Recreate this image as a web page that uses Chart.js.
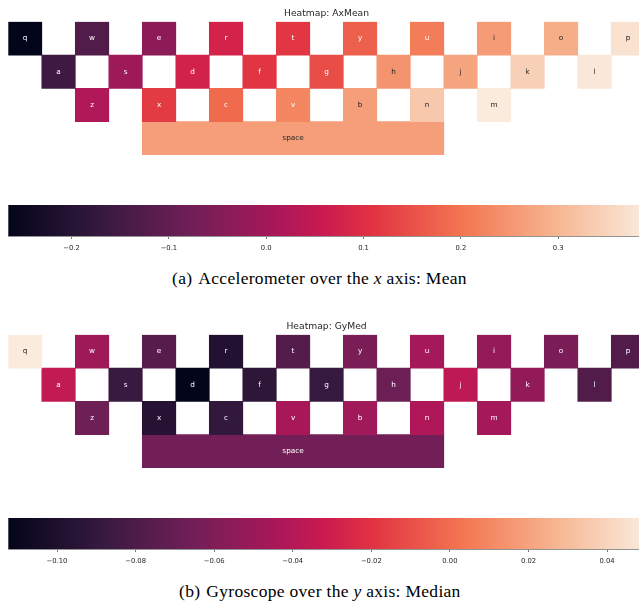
<!DOCTYPE html>
<html>
<head>
<meta charset="utf-8">
<script src="https://cdn.jsdelivr.net/npm/chart.js@4.4.1/dist/chart.umd.min.js"></script>
<style>
  html, body { margin: 0; padding: 0; background: #ffffff; overflow: hidden; width: 639px; height: 604px; }
  canvas { position: absolute; left: 0; display: block; }
  .cap { position: absolute; font-family: "Liberation Serif", "Times New Roman", serif; font-size: 17.5px;
         letter-spacing: 0.3px; color: #000; white-space: nowrap; line-height: 20px; }
  .cap .tag { margin-right: 6px; }
  .cap i { font-style: italic; }
</style>
</head>
<body>
<canvas id="heatA" width="660" height="160" style="top:0px"></canvas>
<canvas id="barA" width="660" height="59" style="top:195px"></canvas>
<div class="cap" style="top:268px; left:172px"><span class="tag">(a)</span>Accelerometer over the <i>x</i> axis: Mean</div>

<canvas id="heatB" width="660" height="160" style="top:313px"></canvas>
<canvas id="barB" width="660" height="59" style="top:508px"></canvas>
<div class="cap" style="top:581px; left:179px"><span class="tag">(b)</span>Gyroscope over the <i>y</i> axis: Median</div>

<script>
// Keyboard rows (top letter row, home row, bottom row, space bar)
const keyRows = [
  ['q', 'w', 'e', 'r', 't', 'y', 'u', 'i', 'o', 'p'],
  ['a', 's', 'd', 'f', 'g', 'h', 'j', 'k', 'l'],
  ['z', 'x', 'c', 'v', 'b', 'n', 'm'],
  ['space']
];

// Accelerometer x-axis mean per key, same order as keyRows
const axMeanRow0 = [-0.265, -0.125, -0.035, 0.078, 0.114, 0.171, 0.212, 0.258, 0.286, 0.374];
const axMeanRow1 = [-0.157, -0.009, 0.075, 0.111, 0.145, 0.248, 0.273, 0.343, 0.382];
const axMeanRow2 = [0.022, 0.120, 0.185, 0.226, 0.264, 0.329, 0.389];
const axMeanSpace = [0.262];

// Gyroscope y-axis median per key
const gyMedRow0 = [0.0496, -0.049, -0.076, -0.098, -0.077, -0.062, -0.046, -0.052, -0.062, -0.078];
const gyMedRow1 = [-0.035, -0.088, -0.1124, -0.093, -0.089, -0.068, -0.036, -0.053, -0.078];
const gyMedRow2 = [-0.067, -0.096, -0.090, -0.045, -0.048, -0.042, -0.046];
const gyMedSpace = [-0.065];

// Colour-bar tick labels
const axMeanTicks = ['\u22120.2', '\u22120.1', '0.0', '0.1', '0.2', '0.3'];
const gyMedTicks = ['\u22120.10', '\u22120.08', '\u22120.06', '\u22120.04', '\u22120.02', '0.00', '0.02', '0.04'];

// "rocket" colour map control points
const rocketStops = [
  [0 / 7, '#03051a'], [1 / 7, '#35193e'], [2 / 7, '#701f57'], [3 / 7, '#ad1759'],
  [0.5, '#cb1b4f'], [4 / 7, '#e13342'], [5 / 7, '#f37651'], [6 / 7, '#f6b48f'], [1, '#faebdd']
];
const hexToRgb = h => [1, 3, 5].map(i => parseInt(h.substr(i, 2), 16));
const stopsRgb = rocketStops.map(([t, h]) => [t, hexToRgb(h)]);

function rocket(t) {
  t = Math.max(0, Math.min(1, t));
  for (let i = 1; i < stopsRgb.length; i++) {
    const [t0, c0] = stopsRgb[i - 1];
    const [t1, c1] = stopsRgb[i];
    if (t <= t1) {
      const f = (t - t0) / (t1 - t0);
      return c0.map((c, k) => Math.round(c + (c1[k] - c) * f));
    }
  }
  return stopsRgb[stopsRgb.length - 1][1];
}

function luminance(rgb) {
  const lin = rgb.map(c => {
    c /= 255;
    return c <= 0.03928 ? c / 12.92 : Math.pow((c + 0.055) / 1.055, 2.4);
  });
  return 0.2126 * lin[0] + 0.7152 * lin[1] + 0.0722 * lin[2];
}

// Grid slot of a key: rows are staggered by one column, keys sit on every other column
const rowStart = [0, 1, 2, 4];
function keySpan(r, i) {
  if (r === 3) return [rowStart[r], rowStart[r] + 9];
  const c = rowStart[r] + 2 * i;
  return [c, c + 1];
}
const GRID_COLS = 19;

const textFont = '"DejaVu Sans", sans-serif';
const PAD_L = 8.3, PAD_R = 15.2;

// Writes each key name in the middle of its cell
const keyLabels = {
  id: 'keyLabels',
  afterDatasetsDraw(chart) {
    const ctx = chart.ctx;
    ctx.save();
    ctx.font = '7.3px ' + textFont;
    ctx.textAlign = 'center';
    ctx.textBaseline = 'middle';
    chart.data.datasets.forEach((ds, di) => {
      chart.getDatasetMeta(di).data.forEach((bar, i) => {
        if (ds.data[i] == null) return;
        const p = bar.getProps(['x', 'y', 'base'], true);
        ctx.fillStyle = ds.textColor;
        ctx.fillText(ds.label, (p.x + p.base) / 2, p.y);
      });
    });
    ctx.restore();
  }
};

function makeHeatmap(id, title, rows) {
  const flat = rows.flat();
  const vmin = Math.min(...flat), vmax = Math.max(...flat);
  const rowIds = keyRows.map((_, r) => 'row' + r);
  const datasets = [];
  keyRows.forEach((keys, r) => {
    keys.forEach((key, i) => {
      const rgb = rocket((rows[r][i] - vmin) / (vmax - vmin));
      const span = keySpan(r, i);
      datasets.push({
        label: key,
        data: rowIds.map((_, rr) => (rr === r ? span : null)),
        backgroundColor: 'rgb(' + rgb.join(',') + ')',
        textColor: luminance(rgb) > 0.408 ? '#262626' : '#ffffff',
        grouped: false,
        barPercentage: 1,
        categoryPercentage: 1,
        borderWidth: 0
      });
    });
  });
  new Chart(document.getElementById(id), {
    type: 'bar',
    data: { labels: rowIds, datasets },
    options: {
      indexAxis: 'y',
      responsive: false,
      animation: false,
      layout: { padding: { left: PAD_L, right: PAD_R, top: 0, bottom: 5 } },
      scales: {
        x: { type: 'linear', display: false, min: 0, max: GRID_COLS },
        y: { display: false }
      },
      plugins: {
        legend: { display: false },
        tooltip: { enabled: false },
        title: {
          display: true, text: title, color: '#262626',
          font: { family: textFont, size: 9.2, weight: 'normal' },
          padding: { top: 8, bottom: 2.7 }
        }
      }
    },
    plugins: [keyLabels]
  });
  return { vmin, vmax };
}

function makeColorbar(id, range, tickLabels) {
  const tickValues = tickLabels.map(s => parseFloat(s.replace('\u2212', '-')));
  new Chart(document.getElementById(id), {
    type: 'bar',
    data: {
      labels: ['scale'],
      datasets: [{
        data: [[range.vmin, range.vmax]],
        barPercentage: 1,
        categoryPercentage: 1,
        borderWidth: 0,
        backgroundColor: c => {
          const area = c.chart.chartArea;
          if (!area) return null;
          const g = c.chart.ctx.createLinearGradient(area.left, 0, area.right, 0);
          rocketStops.forEach(([t, h]) => g.addColorStop(t, h));
          return g;
        }
      }]
    },
    options: {
      indexAxis: 'y',
      responsive: false,
      animation: false,
      layout: { padding: { left: PAD_L, right: PAD_R, top: 10, bottom: 0 } },
      scales: {
        x: {
          type: 'linear', position: 'bottom', min: range.vmin, max: range.vmax,
          afterBuildTicks: s => { s.ticks = tickValues.map(v => ({ value: v })); },
          afterFit: s => { s.height = 18; },
          ticks: {
            callback: (v, i) => tickLabels[i],
            color: '#262626', font: { family: textFont, size: 6.8 },
            padding: 5.5, maxRotation: 0, autoSkip: false
          },
          grid: { drawOnChartArea: false, drawTicks: true, tickLength: 3, color: '#555555', lineWidth: 0.8 },
          border: { display: true, color: '#777777', width: 0.8 }
        },
        y: { display: false }
      },
      plugins: { legend: { display: false }, tooltip: { enabled: false } }
    }
  });
}

const rangeA = makeHeatmap('heatA', 'Heatmap: AxMean', [axMeanRow0, axMeanRow1, axMeanRow2, axMeanSpace]);
makeColorbar('barA', rangeA, axMeanTicks);

const rangeB = makeHeatmap('heatB', 'Heatmap: GyMed', [gyMedRow0, gyMedRow1, gyMedRow2, gyMedSpace]);
makeColorbar('barB', rangeB, gyMedTicks);
</script>
</body>
</html>
